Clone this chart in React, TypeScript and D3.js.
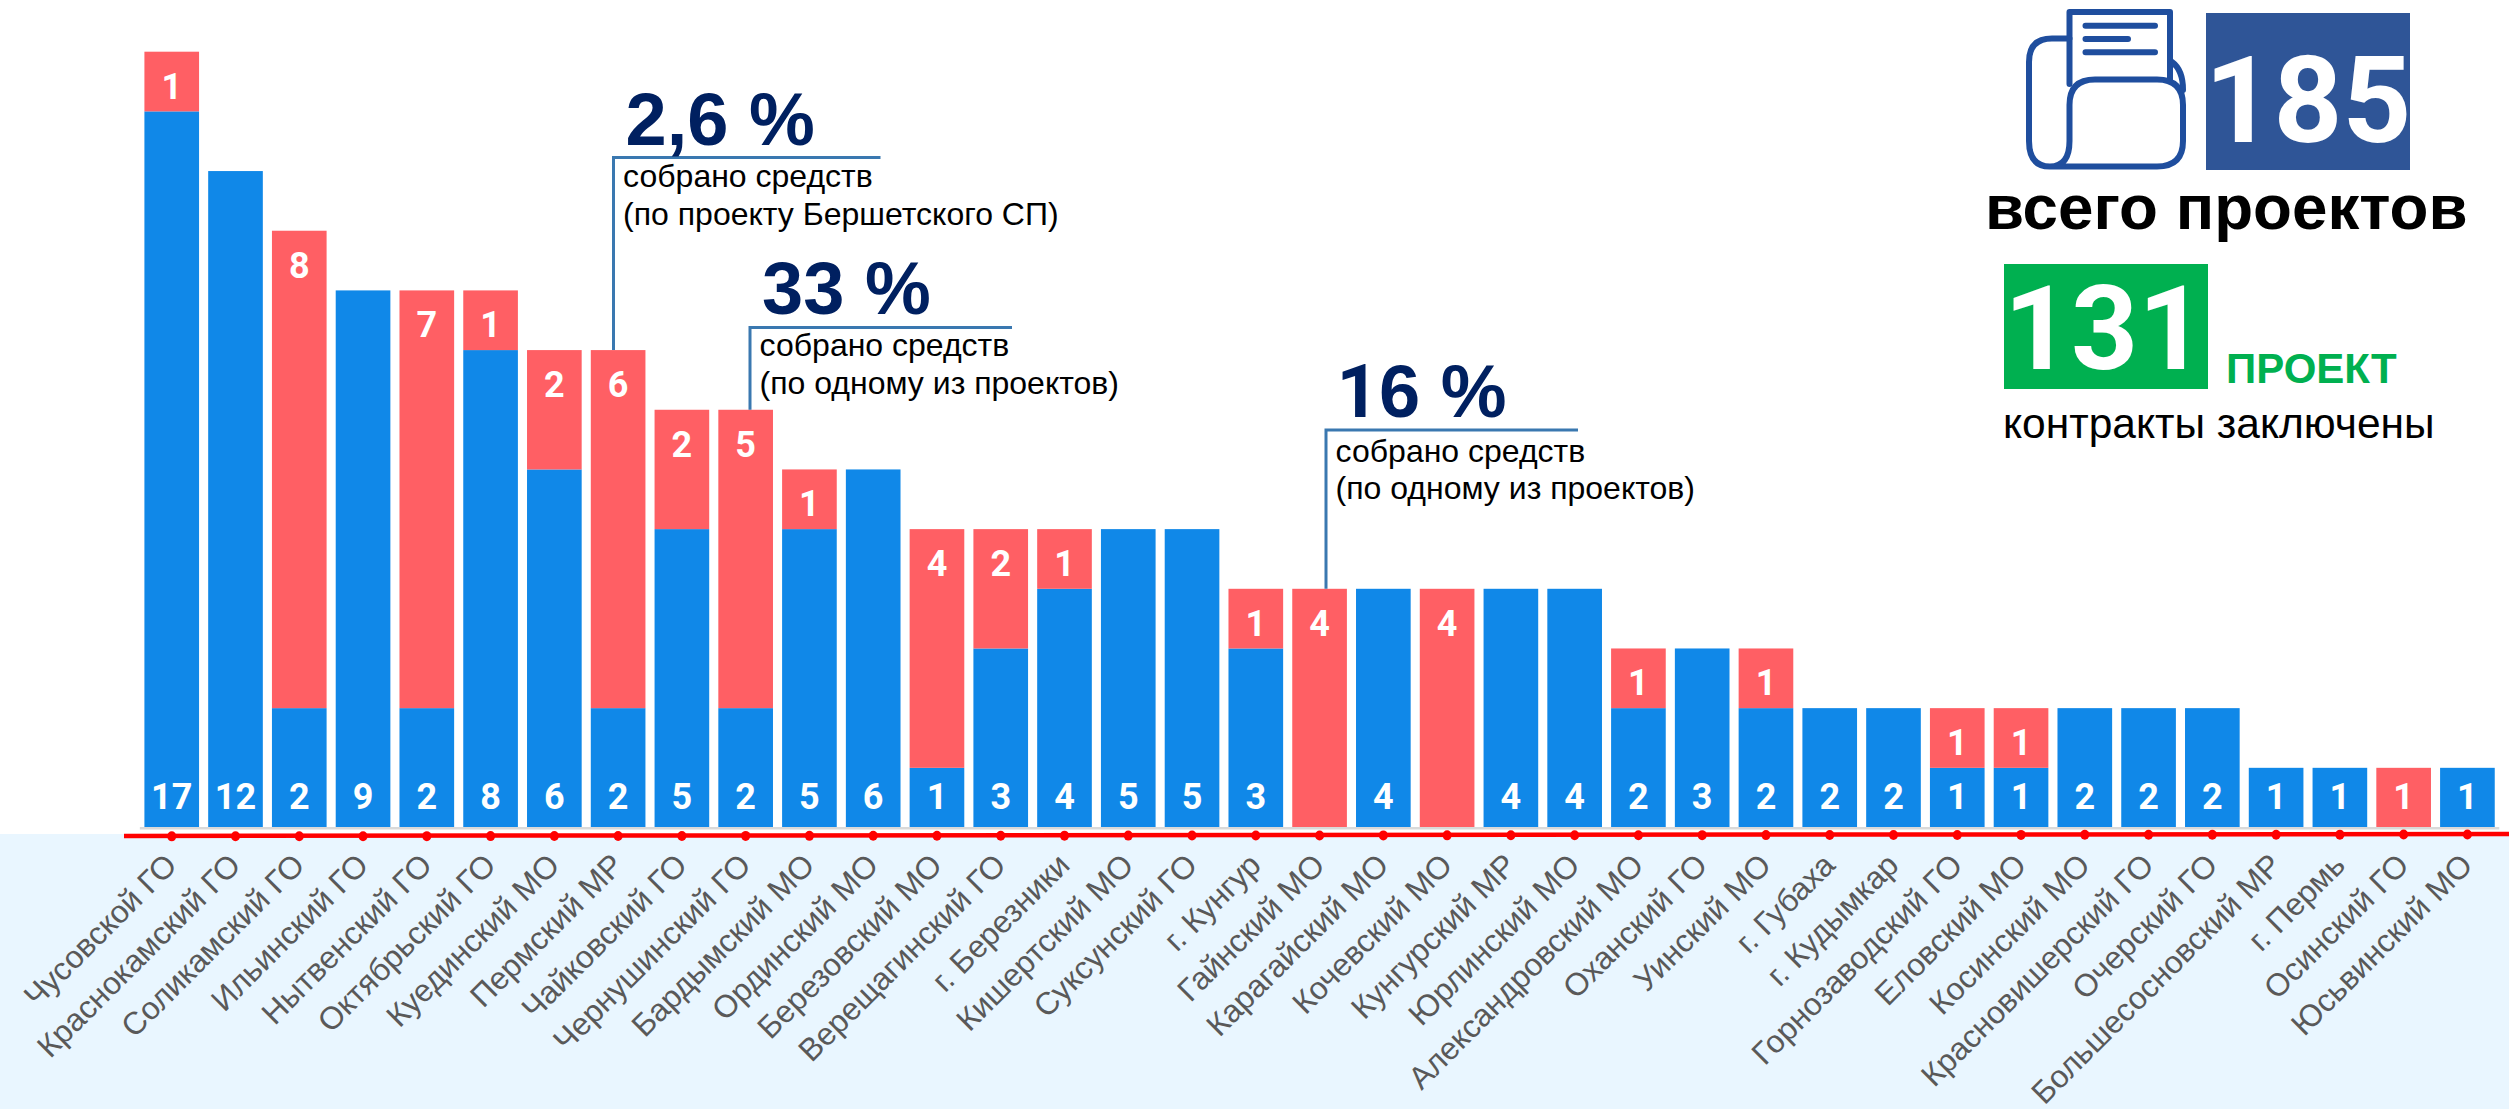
import React from "react";
import * as d3 from "d3";

const categories = ["Чусовской ГО","Краснокамский ГО","Соликамский ГО","Ильинский ГО","Нытвенский ГО","Октябрьский ГО","Куединский МО","Пермский МР","Чайковский ГО","Чернушинский ГО","Бардымский МО","Ординский МО","Березовский МО","Верещагинский ГО","г. Березники","Кишертский МО","Суксунский ГО","г. Кунгур","Гайнский МО","Карагайский МО","Кочевский МО","Кунгурский МР","Юрлинский МО","Александровский МО","Оханский ГО","Уинский МО","г. Губаха","г. Кудымкар","Горнозаводский ГО","Еловский МО","Косинский МО","Красновишерский ГО","Очерский ГО","Большесосновский МР","г. Пермь","Осинский ГО","Юсьвинский МО"];
// Contracts signed (labelled values)
const signed = [17,12,2,9,2,8,6,2,5,2,5,6,1,3,4,5,5,3,0,4,0,4,4,2,3,2,2,2,1,1,2,2,2,1,1,0,1];
// Drawn height of the blue part: the two tallest bars are truncated in the picture
const signedDrawn = [12,11,2,9,2,8,6,2,5,2,5,6,1,3,4,5,5,3,0,4,0,4,4,2,3,2,2,2,1,1,2,2,2,1,1,0,1];
const pending = [1,0,8,0,7,1,2,6,2,5,1,0,4,2,1,0,0,1,4,0,4,0,0,1,0,1,0,0,1,1,0,0,0,0,0,1,0];
const callouts = [
  { bar: "Пермский МР", pct: "2,6 %", l1: "собрано средств", l2: "(по проекту Бершетского СП)" },
  { bar: "Чернушинский ГО", pct: "33 %", l1: "собрано средств", l2: "(по одному из проектов)" },
  { bar: "Гайнский МО", pct: "16 %", l1: "собрано средств", l2: "(по одному из проектов)" },
];
const calloutLineY = [157.5, 327.5, 430];
const calloutLeaderX = [613.5, 750, 1326];
const calloutLen = [267, 262, 252];
const calloutPctX = [625.5, 762, 1336.5];
const calloutPctY = [145, 314, 417];
const calloutL1Y = [187, 356, 461.5];
const calloutL2Y = [225, 394, 499];

const W = 2509, H = 1109;
const BLUE = "#1088E8", RED = "#FF5F64";
const SANS = "'Liberation Sans', Arial, sans-serif";
const NUM = "Roboto, 'Liberation Sans', sans-serif";

export default function App() {
  const x = d3.scaleBand<string>().domain(categories).range([139.85, 2499.3]).paddingInner(0.143).paddingOuter(0.0715);
  const y = d3.scaleLinear().domain([0, 13]).range([827.5, 51.7]);
  const redLine = d3.scaleLinear().domain([0, W]).range([836, 834]);
  const bw = x.bandwidth();
  return (
    <svg width={W} height={H} viewBox={`0 0 ${W} ${H}`} style={{ position: "absolute", left: 0, top: 0, display: "block", fontFamily: SANS }}>
      <rect x={0} y={0} width={W} height={H} fill="#fff" />
      <rect x={0} y={834} width={W} height={H - 834} fill="#E9F6FF" />
      {/* bars */}
      {categories.map((c, i) => {
        const bx = x(c)!;
        const blueTop = y(signedDrawn[i]);
        const redTop = y(signedDrawn[i] + pending[i]);
        return (
          <g key={c}>
            {signedDrawn[i] > 0 && <rect x={bx} y={blueTop} width={bw} height={y(0) - blueTop} fill={BLUE} />}
            {pending[i] > 0 && <rect x={bx} y={redTop} width={bw} height={blueTop - redTop} fill={RED} />}
          </g>
        );
      })}
      <rect x={139.85} y={827} width={2359.45} height={2.5} fill="#D9D9D9" />
      {/* callout leaders */}
      {callouts.map((c, i) => {
        const k = categories.indexOf(c.bar);
        const top = y(signedDrawn[k] + pending[k]);
        const leaderX = calloutLeaderX[i];
        const ly = calloutLineY[i];
        return (
          <g key={c.pct}>
            <path d={`M${leaderX},${top} V${ly} H${leaderX + calloutLen[i]}`} fill="none" stroke="#3A78B0" strokeWidth={3} />
            <text x={calloutPctX[i]} y={calloutPctY[i]} fontSize={74} fontWeight={700} fill="#002060">
              {c.pct.split("").map((ch, j) => (ch === "1" ? <tspan key={j} fontFamily={NUM}>{ch}</tspan> : ch))}
            </text>
            <text x={leaderX + 9.6} y={calloutL1Y[i]} fontSize={32} fill="#000">{c.l1}</text>
            <text x={leaderX + 9.6} y={calloutL2Y[i]} fontSize={32} fill="#000">{c.l2}</text>
          </g>
        );
      })}
      {/* value labels */}
      {categories.map((c, i) => {
        const cx = x(c)! + bw / 2;
        const redTop = y(signedDrawn[i] + pending[i]);
        return (
          <g key={c} fontSize={36} fontWeight={700} fontFamily={NUM} fill="#fff" textAnchor="middle">
            {signed[i] > 0 && <text x={cx} y={809}>{signed[i]}</text>}
            {pending[i] > 0 && <text x={cx} y={Math.min(redTop + 47, 809)}>{pending[i]}</text>}
          </g>
        );
      })}
      {/* red axis */}
      <line x1={124} x2={W} y1={redLine(124)} y2={redLine(W)} stroke="#FF0000" strokeWidth={4.5} />
      {categories.map((c) => {
        const cx = x(c)! + bw / 2;
        return <ellipse key={c} cx={cx} cy={redLine(cx) + 0.5} rx={4.5} ry={5} fill="#FF0000" />;
      })}
      {/* category labels */}
      {categories.map((c) => {
        const cx = x(c)! + bw / 2;
        return (
          <text key={c} transform={`translate(${cx + 7},${867}) rotate(-45)`} textAnchor="end" fontSize={31.6} fill="#595959">{c}</text>
        );
      })}
      {/* icon */}
      <g fill="none" stroke="#1F4E9E" strokeWidth={6} strokeLinecap="round" strokeLinejoin="round">
        <path d="M2069.5,84 V12 H2170 V80" />
        <path d="M2085.5,25.7 H2155 M2085.5,39 H2128 M2085.5,52.3 H2155" />
        <path d="M2069.5,38.5 H2052 Q2029,38.5 2029,62 V141 Q2029,166.5 2050,166.5 Q2069.5,166.5 2069.5,141 V105 Q2069.5,79.5 2095,79.5 H2157 Q2183,79.5 2183,105 V141 Q2183,166.5 2157,166.5 H2050" />
        <path d="M2172,62 Q2183,70 2183,90" />
      </g>
      {/* totals */}
      <rect x={2206} y={13} width={204} height={157} fill="#2F5597" />
      <text x={2308} y={142} textAnchor="middle" fontSize={120} fontWeight={700} fontFamily={NUM} fill="#fff">185</text>
      <text x={1985} y={229} fontSize={63.7} fontWeight={700} fill="#000">всего проектов</text>
      <rect x={2004} y={264} width={204} height={125} fill="#00B050" />
      <text x={2104.6} y={369} textAnchor="middle" fontSize={117} fontWeight={700} fontFamily={NUM} fill="#fff">131</text>
      <text x={2226} y={383} fontSize={42} fontWeight={700} fill="#00B050">ПРОЕКТ</text>
      <text x={2003} y={438} fontSize={42.5} fill="#000">контракты заключены</text>
    </svg>
  );
}
